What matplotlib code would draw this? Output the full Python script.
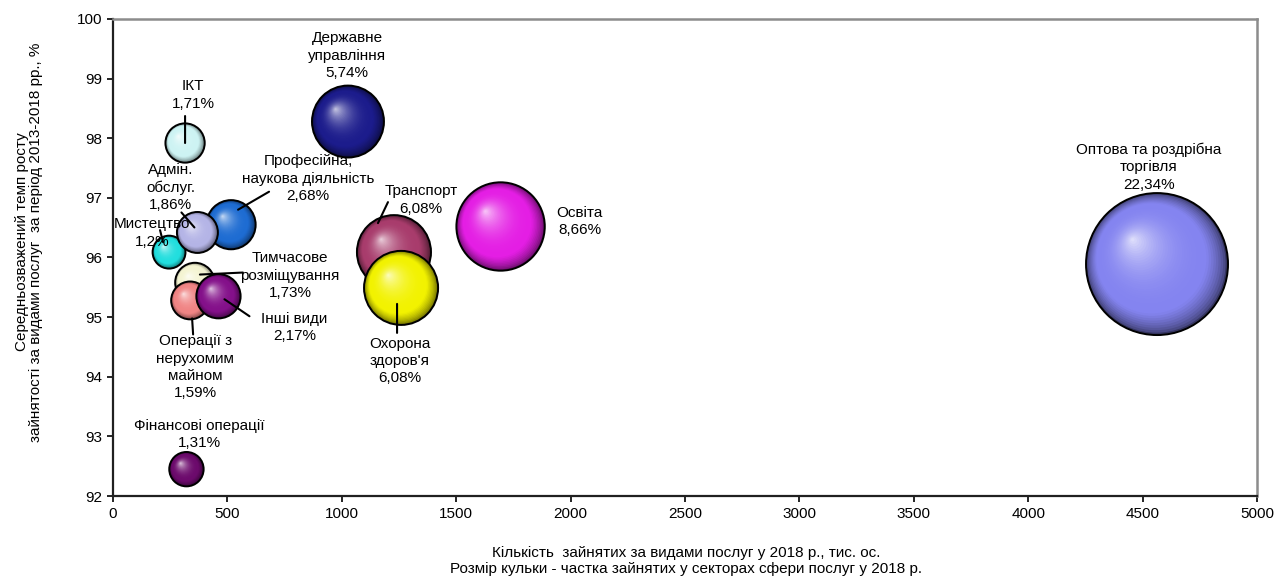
import numpy as np
import matplotlib
matplotlib.use("Agg")
import matplotlib.pyplot as plt
from matplotlib.transforms import offset_copy
from matplotlib.colors import to_rgb

plt.rcParams['font.family'] = ['Liberation Sans', 'DejaVu Sans']

# data, in drawing order (back to front)
sectors = ["Оптова та роздрібна\nторгівля", "Освіта", "Транспорт", "Охорона\nздоров'я",
           "Державне\nуправління", "Професійна,\nнаукова діяльність", "Мистецтво",
           "Адмін.\nобслуг.", "ІКТ", "Тимчасове\nрозміщування",
           "Операції з\nнерухомим\nмайном", "Інші види", "Фінансові операції"]
employed = [4563, 1694, 1228, 1259, 1027, 516, 245, 369, 315, 358, 337, 461, 321]
growth = [95.89, 96.52, 96.09, 95.49, 98.28, 96.55, 96.09, 96.42, 97.92, 95.58, 95.28, 95.35, 92.45]
share = [22.34, 8.66, 6.08, 6.08, 5.74, 2.68, 1.2, 1.86, 1.71, 1.73, 1.59, 2.17, 1.31]
colors = ["#8484f0", "#e41ee4", "#a83c6c", "#f2f200", "#1c1c8c", "#1e6cd2", "#22dede",
          "#b4b4e6", "#cdf3f3", "#f4f4d2", "#f08484", "#84108a", "#6c0a6c"]

# label placement (pixels from bubble centre, y up): text offset, leader start, leader end
label_pos = [(-8, 97), (79, 5), (27, 52), (-1, -73), (-1, 66), (77, 46), (-17, 19),
             (-27, 45), (8, 48), (95, 7), (5, -67), (76, -31), (13, 35)]
leaders = [None, None, ((-6, 50), (-16, 29)), ((-4, -45), (-4, -16)), None,
           ((38, 33), (7, 15)), ((-9, 22), (-6, 10)), ((-16, 20), (-3, 5)),
           ((0, 27), (0, 0)), ((48, 10), (5, 8)), ((3, -34), (2, -18)),
           ((31, -20), (6, -3)), None]

PX = 0.72  # points per pixel at dpi 100
K = 10.815  # bubble radius in points per sqrt(share)


def sphere(ax, x, y, r, color, z):
    base = np.array(to_rgb(color))
    dark = base * 0.4
    white = np.ones(3)
    n = 40
    for i in range(n):
        f = 1 - i / n
        t = i / (n - 1)
        if t < 0.22:
            col = dark + (base - dark) * (t / 0.22) ** 0.6
        else:
            col = base + (white - base) * ((t - 0.22) / 0.78) ** 2.4 * 0.72
        off = (1 - f) * r * 0.35
        tr = offset_copy(ax.transData, fig=ax.figure, x=-off, y=off, units='points')
        ax.scatter([x], [y], s=(2 * r * f) ** 2, color=np.clip(col, 0, 1),
                   transform=tr, zorder=z, edgecolors='none')
    ax.scatter([x], [y], s=(2 * r) ** 2, facecolors='none', edgecolors='black',
               linewidths=1.4, zorder=z + 0.5)


fig = plt.figure(figsize=(12.78, 5.83), dpi=100)
ax = fig.add_axes([113 / 1278, 1 - 496 / 583, 1144 / 1278, 477 / 583])

for i in range(len(sectors)):
    r = K * np.sqrt(share[i])
    sphere(ax, employed[i], growth[i], r, colors[i], 2 + i)
    pct = f"{share[i]:g}".replace('.', ',') + "%"
    dx, dy = label_pos[i]
    ax.annotate(sectors[i] + "\n" + pct, xy=(employed[i], growth[i]),
                xytext=(dx * PX, dy * PX), textcoords='offset points',
                ha='center', va='center', multialignment='center',
                fontsize=11, zorder=50, linespacing=1.3)
    if leaders[i] is not None:
        (sx, sy), (ex, ey) = leaders[i]
        end_tr = offset_copy(ax.transData, fig=fig, x=ex * PX, y=ey * PX, units='points')
        start_tr = offset_copy(ax.transData, fig=fig, x=sx * PX, y=sy * PX, units='points')
        ax.annotate('', xy=(employed[i], growth[i]), xycoords=end_tr,
                    xytext=(employed[i], growth[i]), textcoords=start_tr,
                    arrowprops=dict(arrowstyle='-', color='black', lw=1.5,
                                    shrinkA=0, shrinkB=0), zorder=51)

ax.set_xlim(0, 5000)
ax.set_ylim(92, 100)
ax.set_xticks(np.arange(0, 5001, 500))
ax.set_yticks(np.arange(92, 101, 1))
ax.tick_params(direction='out', length=4, width=1.2, labelsize=11, pad=4)
for side in ['left', 'bottom']:
    ax.spines[side].set_linewidth(1.6)
    ax.spines[side].set_color('#202020')
for side in ['top', 'right']:
    ax.spines[side].set_linewidth(1.8)
    ax.spines[side].set_color('#8c8c8c')

fig.text(686 / 1278, 1 - 561 / 583,
         "Кількість  зайнятих за видами послуг у 2018 р., тис. ос.\n"
         "Розмір кульки - частка зайнятих у секторах сфери послуг у 2018 р.",
         ha='center', va='center', fontsize=11, linespacing=1.2)
fig.text(29 / 1278, 1 - 242 / 583,
         "Середньозважений темп росту\nзайнятості за видами послуг  за період 2013-2018 рр., %",
         ha='center', va='center', rotation=90, fontsize=11, linespacing=1.05)

fig.savefig("out.png", dpi=100)
